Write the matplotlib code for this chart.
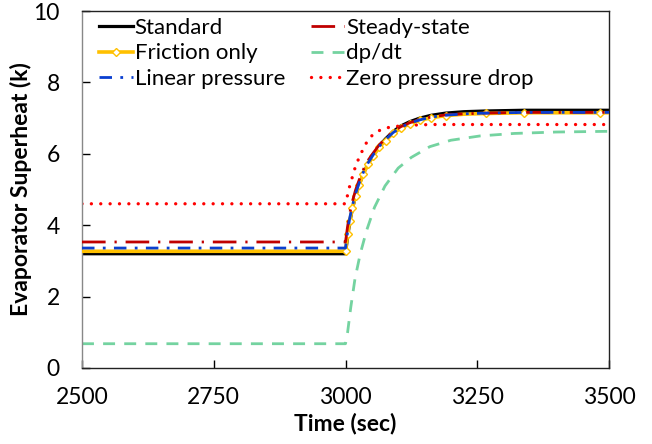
import numpy as np
import matplotlib
matplotlib.use('Agg')
import matplotlib.pyplot as plt

plt.rcParams['font.family'] = ['Lato', 'DejaVu Sans']

# --- Data ---
t = [2500, 3000, 3004, 3008, 3013, 3019, 3026, 3034, 3043, 3053, 3064, 3076,
     3090, 3105, 3122, 3141, 3163, 3190, 3225, 3267, 3339, 3411, 3483, 3500]

standard = [3.20, 3.20, 3.68, 4.08, 4.45, 4.81, 5.13, 5.45, 5.73, 5.97, 6.22, 6.42,
            6.62, 6.78, 6.90, 7.00, 7.08, 7.14, 7.18, 7.20, 7.22, 7.22, 7.22, 7.22]
steady_state = [3.53, 3.53, 3.97, 4.33, 4.66, 4.98, 5.27, 5.56, 5.82, 6.03, 6.25, 6.43,
                6.62, 6.76, 6.87, 6.96, 7.03, 7.09, 7.12, 7.14, 7.16, 7.16, 7.16, 7.16]
friction_only = [3.27, 3.27, 3.74, 4.12, 4.47, 4.82, 5.13, 5.44, 5.71, 5.95, 6.18, 6.37,
                 6.57, 6.72, 6.84, 6.94, 7.01, 7.07, 7.11, 7.13, 7.15, 7.15, 7.15, 7.15]
linear_pressure = [3.36, 3.36, 3.82, 4.20, 4.54, 4.88, 5.18, 5.49, 5.75, 5.98, 6.21, 6.40,
                   6.59, 6.74, 6.86, 6.95, 7.03, 7.08, 7.12, 7.14, 7.16, 7.16, 7.16, 7.16]
# friction-only markers are drawn only at the solver output points
friction_marks = [1, 2, 3, 4, 5, 6, 7, 8, 9, 10, 11, 12, 13, 14, 15, 16, 17, 19, 20, 22]

t_zero = [2500, 3000, 3004, 3008, 3013, 3019, 3026, 3034, 3043, 3053, 3064, 3076,
          3090, 3105, 3122, 3141, 3163, 3190, 3500]
zero_dp = [4.60, 4.60, 4.85, 5.10, 5.35, 5.65, 5.90, 6.15, 6.40, 6.55, 6.65, 6.72,
           6.76, 6.78, 6.80, 6.81, 6.82, 6.82, 6.82]

t_dpdt = [2500, 3000, 3004, 3010, 3018, 3028, 3040, 3055, 3075, 3100, 3125, 3160,
          3200, 3255, 3320, 3400, 3500]
dpdt = [0.68, 0.68, 1.00, 1.70, 2.50, 3.20, 3.85, 4.50, 5.10, 5.60, 5.90, 6.20,
        6.38, 6.50, 6.57, 6.61, 6.63]

xticks = [2500, 2750, 3000, 3250, 3500]
yticks = [0, 2, 4, 6, 8, 10]

# --- Figure ---
fig = plt.figure(figsize=(6.52, 4.44), dpi=100)
ax = fig.add_axes([82 / 652, 1 - 368 / 444, 527 / 652, 357 / 444])

ax.plot(t, standard, color='black', lw=2.3, label='Standard', zorder=2)
ax.plot(t, friction_only, color='#FFC000', lw=2.6, marker='D', ms=4,
        mfc='white', mec='#FFC000', mew=1.0, markevery=friction_marks,
        label='Friction only', zorder=3)
ax.plot(t, linear_pressure, color='#0A3FD0', lw=2.0, dashes=[4.5, 3, 1, 3],
        label='Linear pressure', zorder=5)
ax.plot(t, steady_state, color='#C00000', lw=2.0, dashes=[8.5, 3.2, 0.8, 3.2],
        label='Steady-state', zorder=4)
ax.plot(t_dpdt, dpdt, color='#74D3A0', lw=2.0, dashes=[4.3, 3.3],
        label='dp/dt', zorder=2)
ax.plot(t_zero, zero_dp, color='#FF0000', lw=2.4, dashes=[0.01, 2.8],
        dash_capstyle='round', label='Zero pressure drop', zorder=2)

ax.set_xlim(2500, 3500)
ax.set_ylim(0, 10)
ax.set_xticks(xticks)
ax.set_yticks(yticks)
ax.tick_params(axis='both', direction='in', length=6, width=1, labelsize=16.5)
ax.tick_params(axis='x', pad=14)
ax.tick_params(axis='y', pad=16)

for s in ax.spines.values():
    s.set_linewidth(1.0)
    s.set_color('#222222')
ax.spines['left'].set_color('#888888')

ax.set_xlabel('Time (sec)', fontsize=16.5, fontweight='bold', labelpad=3)
ax.set_ylabel('Evaporator Superheat (k)', fontsize=16.5, fontweight='bold', labelpad=1)

ax.legend(loc='upper left', bbox_to_anchor=(0.02, 1.0), ncol=2, frameon=False,
          fontsize=16, handlelength=1.5, handletextpad=0.1, columnspacing=1.15,
          labelspacing=0.26, borderaxespad=0.1, borderpad=0.2)

fig.savefig('out.png', dpi=100)
